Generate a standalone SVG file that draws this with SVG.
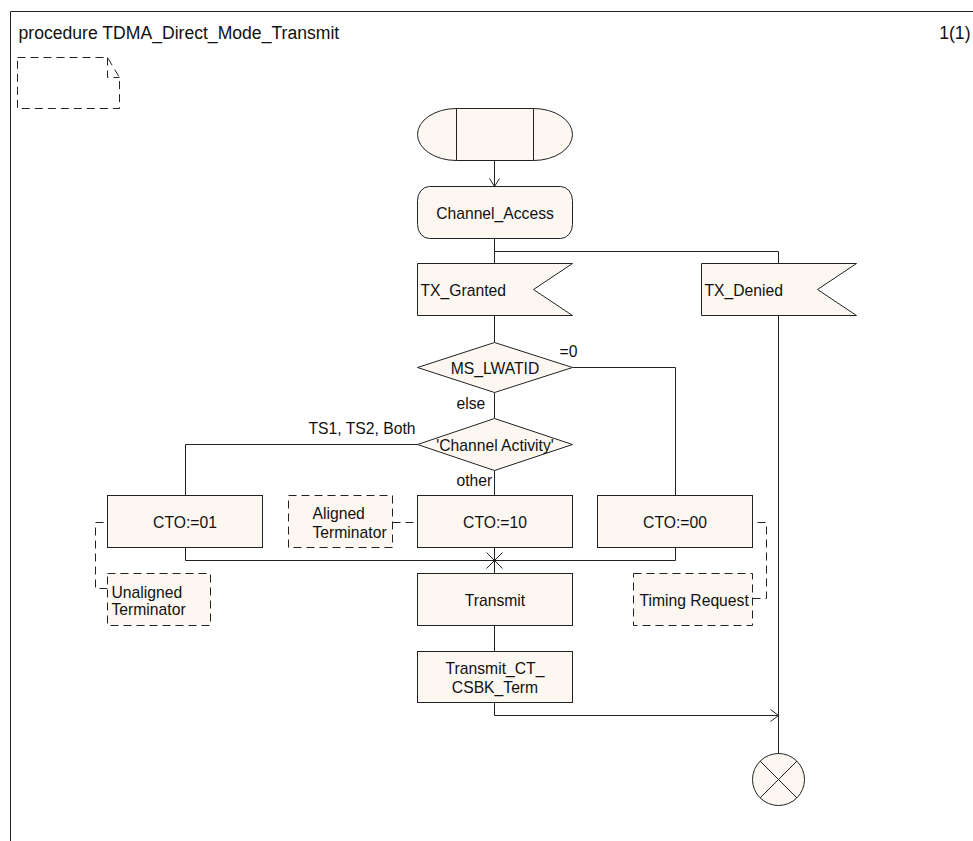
<svg xmlns="http://www.w3.org/2000/svg" width="973" height="841" viewBox="0 0 973 841">
<style>
.s{fill:#fdf7f1;stroke:#222;stroke-width:1}
.d{fill:#fdf7f1;stroke:#222;stroke-width:1;stroke-dasharray:8 5}
.dl{fill:none;stroke:#222;stroke-width:1;stroke-dasharray:8 5}
.l{fill:none;stroke:#222;stroke-width:1}
text{font-family:"Liberation Sans",Arial,sans-serif;font-size:15.7px;fill:#111}
.c{text-anchor:middle}
.t{font-size:17.6px}
</style>
<g transform="translate(0.5,0.5)">
<g id="frame">
<path class="l" d="M10,11 H973 M10,11 V841" stroke-width="1.3"/>
<text class="t" x="18" y="38">procedure TDMA_Direct_Mode_Transmit</text>
<text class="t" x="970" y="38" text-anchor="end">1(1)</text>
</g>
<g id="comment">
<path class="dl" d="M17,57 H107 L119,77 V108 H17 Z M107,57 V77 H119"/>
</g>
<g id="connectors">
<path class="l" d="M494,160 V186"/>
<path class="l" d="M489,178 L494,186 L499,178"/>
<path class="l" d="M494,238 V263 M494,251 H778 V263"/>
<path class="l" d="M494,315 V342"/>
<path class="l" d="M572,367 H675 V495"/>
<path class="l" d="M494,392 V418"/>
<path class="l" d="M417,444 H185 V495"/>
<path class="l" d="M494,470 V495"/>
<path class="l" d="M185,547 V560 H675 V547 M494,547 V573"/>
<path class="l" d="M486,552 L502,568 M502,552 L486,568"/>
<circle cx="494" cy="560" r="1.8" fill="#222"/>
<path class="l" d="M494,625 V651"/>
<path class="l" d="M494,702 V715 H778"/>
<path class="l" d="M770,709 L778,715 L770,721"/>
<path class="l" d="M778,315 V753"/>
<path class="dl" d="M392,522 H417"/>
<path class="dl" d="M103,522 H95 V588 H107"/>
<path class="dl" d="M757,522 H766 V598 H752"/>
</g>
<g id="start">
<path class="s" d="M456,108 H533 A39,26 0 0 1 533,160 H456 A39,26 0 0 1 456,108 Z"/>
<path class="l" d="M456,108 V160 M533,108 V160"/>
</g>
<g id="channel_access">
<rect class="s" x="417" y="186" width="155" height="52" rx="12" ry="14"/>
<text class="c" x="494.5" y="218">Channel_Access</text>
</g>
<g id="tx_granted">
<path class="s" d="M417,263 H572 L533,289 L572,315 H417 Z"/>
<text x="420" y="295">TX_Granted</text>
</g>
<g id="tx_denied">
<path class="s" d="M701,263 H856 L817,289 L856,315 H701 Z"/>
<text x="704" y="295">TX_Denied</text>
</g>
<g id="ms_lwatid">
<path class="s" d="M494,342 L572,367 L494,392 L417,367 Z"/>
<text class="c" x="494.5" y="373">MS_LWATID</text>
<text x="559" y="356">=0</text>
<text x="456" y="408">else</text>
</g>
<g id="channel_activity">
<path class="s" d="M494,418 L572,444 L494,470 L417,444 Z"/>
<text class="c" x="494.5" y="450">'Channel Activity'</text>
<text x="415" y="433" text-anchor="end">TS1, TS2, Both</text>
<text x="456" y="485">other</text>
</g>
<g id="cto01">
<rect class="s" x="107" y="495" width="155" height="52"/>
<text class="c" x="184.5" y="527">CTO:=01</text>
</g>
<g id="aligned_terminator">
<rect class="d" x="288" y="495" width="104" height="52"/>
<text x="312" y="518">Aligned</text>
<text x="312" y="537">Terminator</text>
</g>
<g id="cto10">
<rect class="s" x="417" y="495" width="155" height="52"/>
<text class="c" x="494.5" y="527">CTO:=10</text>
</g>
<g id="cto00">
<rect class="s" x="597" y="495" width="155" height="52"/>
<text class="c" x="674.5" y="527">CTO:=00</text>
</g>
<g id="unaligned_terminator">
<rect class="d" x="107" y="573" width="103" height="52"/>
<text x="111" y="597">Unaligned</text>
<text x="111" y="614">Terminator</text>
</g>
<g id="transmit">
<rect class="s" x="417" y="573" width="155" height="52"/>
<text class="c" x="494.5" y="605">Transmit</text>
</g>
<g id="timing_request">
<rect class="d" x="633" y="573" width="119" height="52"/>
<text x="639" y="605">Timing Request</text>
</g>
<g id="transmit_ct_csbk_term">
<rect class="s" x="417" y="651" width="155" height="51"/>
<text class="c" x="494.5" y="673">Transmit_CT_</text>
<text class="c" x="494.5" y="692">CSBK_Term</text>
</g>
<g id="end">
<circle class="s" cx="778" cy="779" r="26"/>
<path class="l" d="M759.6,760.6 L796.4,797.4 M796.4,760.6 L759.6,797.4"/>
</g>
</g>
</svg>
